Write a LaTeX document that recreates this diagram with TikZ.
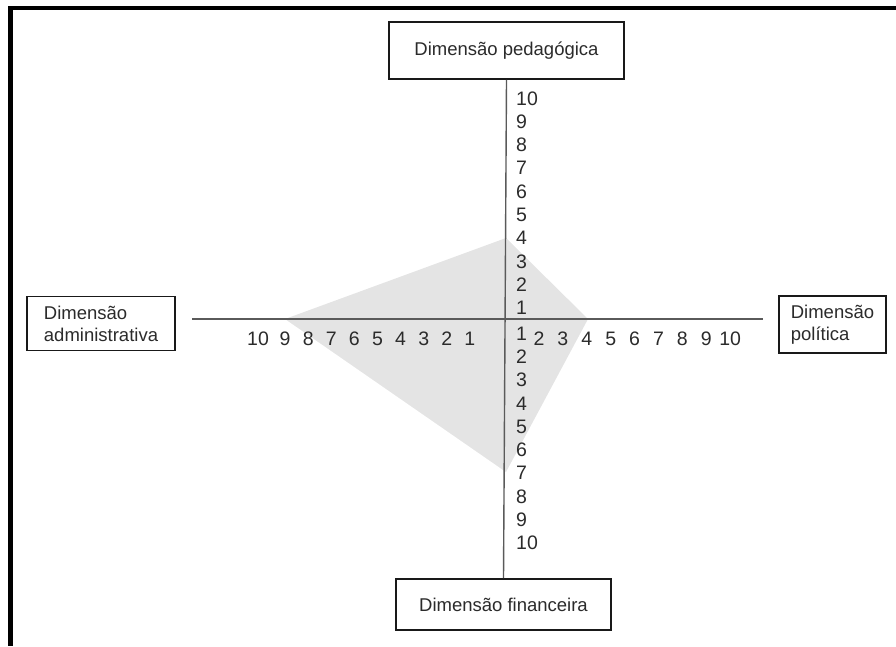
\documentclass[tikz,border=0pt]{standalone}
\usepackage{fontspec}
\setmainfont{Liberation Sans}
\definecolor{ink}{HTML}{2B2B2B}
\definecolor{axisgray}{HTML}{5A5A5A}
\definecolor{profilegray}{HTML}{E4E4E4}
\begin{document}
\begin{tikzpicture}[x=1pt,y=-1pt,
  dimbox/.style={draw=black!90, line width=1.6pt, fill=white, inner sep=0pt,
    align=left, text=ink, font=\fontsize{18.5}{22}\selectfont},
  num/.style={text=ink, inner sep=0pt, font=\fontsize{19.5}{19.5}\selectfont},
  axisline/.style={draw=axisgray, line width=1.4pt}]
\useasboundingbox (0,0) rectangle (896,646);
% page frame: top rule and left rule
\fill[black] (8,6) rectangle (896,9.5);
\fill[black] (8,6) rectangle (12.5,646);

% profile polygon (pedagogical 4, political 4, financial 7, administrative 9)
\fill[profilegray] (506,238) -- (588,319) -- (506,472) -- (285,319) -- cycle;

% dimension boxes
\node[dimbox, minimum width=235pt, minimum height=57pt] (ped) at (506.5,50.5) {Dimensão pedagógica};
\node[dimbox, minimum width=215pt, minimum height=51pt] (fin) at (503.5,604.5) {Dimensão financeira};
\node[dimbox, minimum width=148pt, minimum height=54pt] (adm) at (101,323.5) {Dimensão\\administrativa};
\node[dimbox, minimum width=107pt, minimum height=57pt] (pol) at (832.5,324.5) {Dimensão\\política};

% axes
\coordinate (hl) at (192,319);
\coordinate (hr) at (763,319);
\draw[axisline] (ped.south) -- (fin.north);
\draw[axisline] (hl) -- (hr);

% scale numbers, upper half of the vertical axis
\foreach \k in {1,...,10}
  \node[num, anchor=west] (up\k) at (516,{331.3-23.3*\k}) {\k};
% scale numbers, lower half of the vertical axis
\foreach \k in {1,...,10}
  \node[num, anchor=west] (dn\k) at (516,{310.5+23.25*\k}) {\k};
% scale numbers, right half of the horizontal axis
\foreach \k in {2,...,10}
  \node[num] (rt\k) at ({491.2+23.9*\k},339) {\k};
% scale numbers, left half of the horizontal axis
\foreach \k in {1,...,9}
  \node[num] (lf\k) at ({493-23.1*\k},339) {\k};
\node[num] (lf10) at (258,339) {10};
\end{tikzpicture}
\end{document}
